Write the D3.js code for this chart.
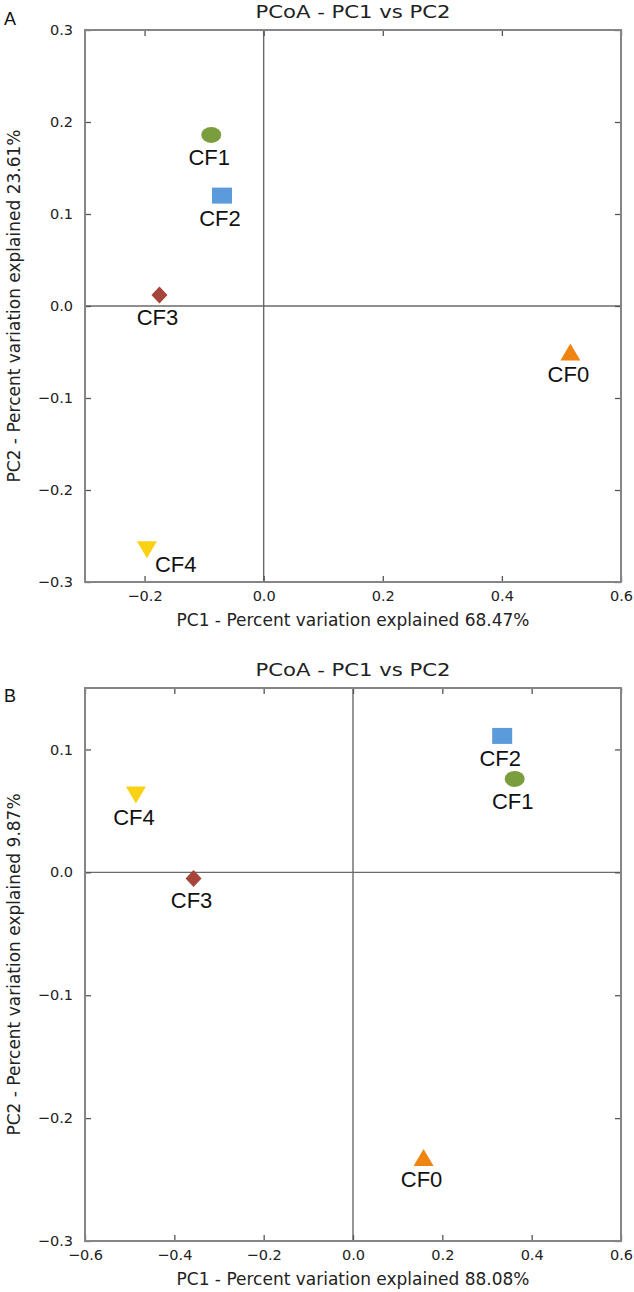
<!DOCTYPE html>
<html><head><meta charset="utf-8">
<script src="https://cdn.jsdelivr.net/npm/d3@7"></script>
<style>body{margin:0;background:#fff}</style>
</head><body>
<svg id="chart" width="634" height="1292"></svg>
<script>
// ---- data ----
const samples = ["CF0", "CF1", "CF2", "CF3", "CF4"];
const sampleShapes = ["triangle-up", "circle", "square", "diamond", "triangle-down"];
const sampleColors = ["#ef8412", "#7a9e3e", "#5b9bdc", "#a6453a", "#fbd114"];

const pc1A = [0.515, -0.088, -0.070, -0.175, -0.196];
const pc2A = [-0.050, 0.186, 0.120, 0.012, -0.265];
const labelSideA = ["below", "below", "below", "below", "right"];

const pc1B = [0.158, 0.362, 0.334, -0.357, -0.486];
const pc2B = [-0.232, 0.076, 0.111, -0.005, 0.063];
const labelSideB = ["below", "below", "below", "below", "below"];

const xDomainA = [-0.3, 0.6], yDomainA = [-0.3, 0.3];
const xDomainB = [-0.6, 0.6], yDomainB = [-0.3, 0.15];
const xTicksA = [-0.2, 0.0, 0.2, 0.4, 0.6];
const yTicksA = [-0.3, -0.2, -0.1, 0.0, 0.1, 0.2, 0.3];
const xTicksB = [-0.6, -0.4, -0.2, 0.0, 0.2, 0.4, 0.6];
const yTicksB = [-0.3, -0.2, -0.1, 0.0, 0.1];

const titleText = "PCoA - PC1 vs PC2";
const xLabelA = "PC1 - Percent variation explained 68.47%";
const yLabelA = "PC2 - Percent variation explained 23.61%";
const xLabelB = "PC1 - Percent variation explained 88.08%";
const yLabelB = "PC2 - Percent variation explained 9.87%";

// ---- drawing ----
const svg = d3.select("#chart");
const axisFont = "'DejaVu Sans', sans-serif";
const labelFont = "'Liberation Sans', Arial, sans-serif";
const fmt = d3.format(".1f");

function markerPath(shape) {
  switch (shape) {
    case "circle": {
      const p = d3.path(); p.ellipse ? null : null;
      return "M-10,0 A10,8 0 1,0 10,0 A10,8 0 1,0 -10,0 Z";
    }
    case "square": return "M-10,-8 H10 V8 H-10 Z";
    case "diamond": return "M0,-8.5 L8,0 L0,8.5 L-8,0 Z";
    case "triangle-up": return "M0,-8.5 L10,8.5 L-10,8.5 Z";
    case "triangle-down": return "M0,8.5 L10,-8.5 L-10,-8.5 Z";
  }
}

function panel(cfg) {
  const x = d3.scaleLinear().domain(cfg.xDomain).range([cfg.left, cfg.right]);
  const y = d3.scaleLinear().domain(cfg.yDomain).range([cfg.bottom, cfg.top]);
  const g = svg.append("g");

  // zero lines
  g.append("line").attr("x1", x(0)).attr("x2", x(0)).attr("y1", cfg.top).attr("y2", cfg.bottom)
    .attr("stroke", "#6a6a6a").attr("stroke-width", 1.4);
  g.append("line").attr("x1", cfg.left).attr("x2", cfg.right).attr("y1", y(0)).attr("y2", y(0))
    .attr("stroke", "#6a6a6a").attr("stroke-width", 1.4);

  // axes (inward ticks on all four sides)
  const styleAxis = sel => {
    sel.select(".domain").remove();
    sel.selectAll(".tick line").attr("stroke", "#555").attr("stroke-width", 1.3);
    sel.selectAll(".tick text").attr("fill", "#222").style("font-family", axisFont).style("font-size", "14.5px");
  };
  g.append("g").attr("transform", `translate(0,${cfg.bottom})`)
    .call(d3.axisBottom(x).tickValues(cfg.xTicks).tickFormat(fmt).tickSizeInner(-6).tickSizeOuter(0).tickPadding(9))
    .call(styleAxis);
  g.append("g").attr("transform", `translate(0,${cfg.top})`)
    .call(d3.axisTop(x).tickValues(cfg.xTicks).tickFormat("").tickSizeInner(-6).tickSizeOuter(0))
    .call(styleAxis);
  g.append("g").attr("transform", `translate(${cfg.left},0)`)
    .call(d3.axisLeft(y).tickValues(cfg.yTicks).tickFormat(fmt).tickSizeInner(-6).tickSizeOuter(0).tickPadding(12))
    .call(styleAxis);
  g.append("g").attr("transform", `translate(${cfg.right},0)`)
    .call(d3.axisRight(y).tickValues(cfg.yTicks).tickFormat("").tickSizeInner(-6).tickSizeOuter(0))
    .call(styleAxis);

  // frame
  g.append("rect").attr("x", cfg.left).attr("y", cfg.top)
    .attr("width", cfg.right - cfg.left).attr("height", cfg.bottom - cfg.top)
    .attr("fill", "none").attr("stroke", "#858585").attr("stroke-width", 2);

  // points
  const data = samples.map((s, i) => ({ s, px: cfg.pc1[i], py: cfg.pc2[i], shape: sampleShapes[i], color: sampleColors[i], side: cfg.side[i] }));
  g.selectAll("path.pt").data(data).join("path").attr("class", "pt")
    .attr("d", d => markerPath(d.shape))
    .attr("transform", d => `translate(${x(d.px)},${y(d.py)})`)
    .attr("fill", d => d.color);
  g.selectAll("text.lbl").data(data).join("text").attr("class", "lbl")
    .attr("x", d => d.side === "right" ? x(d.px) + 8 : x(d.px) - 2)
    .attr("y", d => d.side === "right" ? y(d.py) + 22 : y(d.py) + 30)
    .attr("text-anchor", d => d.side === "right" ? "start" : "middle")
    .style("font-family", labelFont).style("font-size", "22px").attr("fill", "#111")
    .text(d => d.s);

  // titles
  const cx = (cfg.left + cfg.right) / 2;
  g.append("text").attr("x", cx).attr("y", cfg.top - 12).attr("text-anchor", "middle")
    .attr("textLength", 195).attr("lengthAdjust", "spacingAndGlyphs")
    .style("font-family", axisFont).style("font-size", "18.5px").attr("fill", "#222").text(titleText);
  g.append("text").attr("x", cx).attr("y", cfg.bottom + 44).attr("text-anchor", "middle")
    .style("font-family", axisFont).style("font-size", "17px").attr("fill", "#222").text(cfg.xLabel);
  g.append("text").attr("transform", `translate(20,${(cfg.top + cfg.bottom) / 2}) rotate(-90)`)
    .attr("text-anchor", "middle")
    .style("font-family", axisFont).style("font-size", "17px").attr("fill", "#222").text(cfg.yLabel);
  g.append("text").attr("x", cfg.letterX).attr("y", cfg.letterY)
    .style("font-family", labelFont).style("font-size", "18px").attr("fill", "#111").text(cfg.letter);
}

panel({ letter: "A", letterX: 4, letterY: 25, left: 85, right: 621, top: 30, bottom: 582,
  xDomain: xDomainA, yDomain: yDomainA, xTicks: xTicksA, yTicks: yTicksA,
  pc1: pc1A, pc2: pc2A, side: labelSideA, xLabel: xLabelA, yLabel: yLabelA });
panel({ letter: "B", letterX: 4, letterY: 702, left: 85, right: 621, top: 688, bottom: 1241,
  xDomain: xDomainB, yDomain: yDomainB, xTicks: xTicksB, yTicks: yTicksB,
  pc1: pc1B, pc2: pc2B, side: labelSideB, xLabel: xLabelB, yLabel: yLabelB });
</script>
</body></html>
